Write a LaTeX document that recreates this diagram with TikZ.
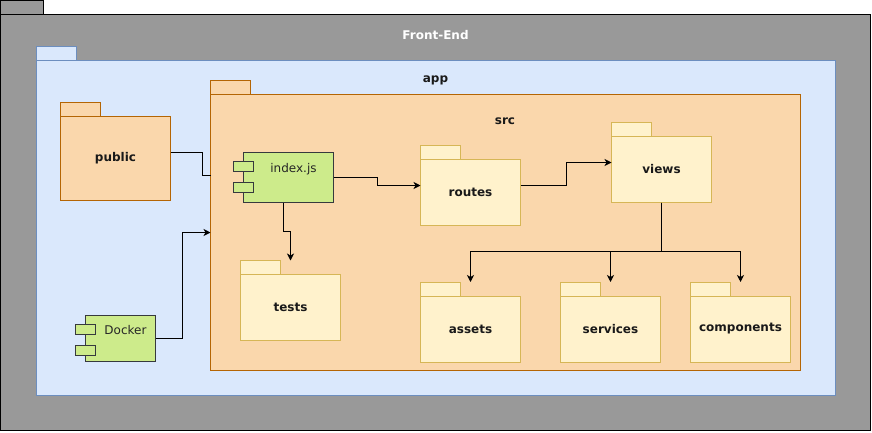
\documentclass[tikz,border=0pt]{standalone}
\usepackage{fontspec}
\setmainfont{DejaVu Sans}
\usetikzlibrary{positioning,arrows.meta}
\definecolor{cOuter}{HTML}{999999}
\definecolor{cApp}{HTML}{DAE8FC}
\definecolor{cAppLine}{HTML}{6C8EBF}
\definecolor{cSrc}{HTML}{FAD7AC}
\definecolor{cSrcLine}{HTML}{B46504}
\definecolor{cDir}{HTML}{FFF2CC}
\definecolor{cDirLine}{HTML}{D6B656}
\definecolor{cComp}{HTML}{CDEB8B}
\definecolor{cCompLine}{HTML}{36393D}
\tikzset{
  box/.style={draw, anchor=north west, inner sep=0pt, outer sep=0pt,
              font=\bfseries\fontsize{12}{14}\selectfont, text=black!90},
  outerpkg/.style={box, draw=black, fill=cOuter},
  apppkg/.style={box, draw=cAppLine, fill=cApp},
  srcpkg/.style={box, draw=cSrcLine, fill=cSrc},
  dirpkg/.style={box, draw=cDirLine, fill=cDir, minimum width=100pt, minimum height=66pt},
  comp/.style={box, draw=cCompLine, fill=cComp},
  plug/.style={draw=cCompLine, fill=cComp},
  title/.style={anchor=base, inner sep=0pt, font=\bfseries\fontsize{12}{14}\selectfont, text=black!90},
  comptxt/.style={anchor=base, inner sep=0pt, font=\fontsize{12}{14}\selectfont, text=black!85},
  ln/.style={draw=black},
  ar/.style={ln, -{Stealth[length=7pt,width=7pt,inset=2pt]}},
}
\newcommand{\pkgtab}[3][40pt]{\draw[#3] (#2.north west) rectangle ++(#1,14pt);}
\newcommand{\plugs}[1]{\foreach \dy in {9,30}
  \draw[plug] ([xshift=-10pt,yshift=-\dy pt]#1.north west) rectangle ++(20pt,-10pt);}

\begin{document}
\begin{tikzpicture}[x=1pt, y=-1pt, line width=1pt]
  \useasboundingbox (0,0) rectangle (872,432);
  % packages
  \node[outerpkg, minimum width=870pt, minimum height=416pt] (fe) at (0.5,14.5) {};
  \pkgtab[43pt]{fe}{draw=black, fill=cOuter}
  \node[title, text=white] (felbl) at (435.5,39) {Front-End};

  \node[apppkg, minimum width=799pt, minimum height=335pt] (app) at (36.5,60.5) {};
  \pkgtab{app}{draw=cAppLine, fill=cApp}
  \node[title] (applbl) at (435.5,82) {app};

  \node[srcpkg, minimum width=110pt, minimum height=84pt] (pub) at (60.5,116.5) {public};
  \pkgtab{pub}{draw=cSrcLine, fill=cSrc}

  \node[srcpkg, minimum width=590pt, minimum height=276pt] (src) at (210.5,94.5) {};
  \pkgtab{src}{draw=cSrcLine, fill=cSrc}
  \node[title] (srclbl) at (505,124) {src};

  % folders
  \node[dirpkg] (rts) at (420.5,159.5) {routes};
  \pkgtab{rts}{draw=cDirLine, fill=cDir}
  \node[dirpkg] (vws) at (611.5,136.5) {views};
  \pkgtab{vws}{draw=cDirLine, fill=cDir}
  \node[dirpkg] (tst) at (240.5,274.5) {tests};
  \pkgtab{tst}{draw=cDirLine, fill=cDir}
  \node[dirpkg] (ast) at (420.5,296) {assets};
  \node[dirpkg, right=40pt of ast] (srv) {services};
  \node[dirpkg, right=30pt of srv] (cmp) {components};
  \foreach \d in {ast,srv,cmp}
    \pkgtab{\d}{draw=cDirLine, fill=cDir};

  % components
  \node[comp, minimum width=90pt, minimum height=50pt] (idx) at (243.5,152.5) {};
  \plugs{idx}
  \node[comptxt] (idxlbl) at ([xshift=5pt,yshift=-19.5pt]idx.north) {index.js};
  \node[comp, minimum width=70pt, minimum height=46pt] (dock) at (85.5,315.5) {};
  \plugs{dock}
  \node[comptxt] (docklbl) at ([xshift=5pt,yshift=-18.5pt]dock.north) {Docker};

  % connectors
  \coordinate (pubin) at (210.5,175.5);
  \draw[ln] ([yshift=6.5pt]pub.east) -- ++(32,0) |- (pubin);
  \draw[ar] (dock.east) -- ++(27,0) |- (src.west);
  \draw[ar] (idx.east) -- ++(44,0) |- ([yshift=7pt]rts.west);
  \draw[ar] ([xshift=-5pt]idx.south) -- ++(0,29) -| ([yshift=14pt]tst.north);
  \draw[ar] ([yshift=7pt]rts.east) -- ++(46,0) |- ([yshift=7pt]vws.west);
  \foreach \d in {ast,srv,cmp}
    \draw[ar] (vws.south) -- ++(0,49) -| ([yshift=14pt]\d.north);
\end{tikzpicture}
\end{document}
